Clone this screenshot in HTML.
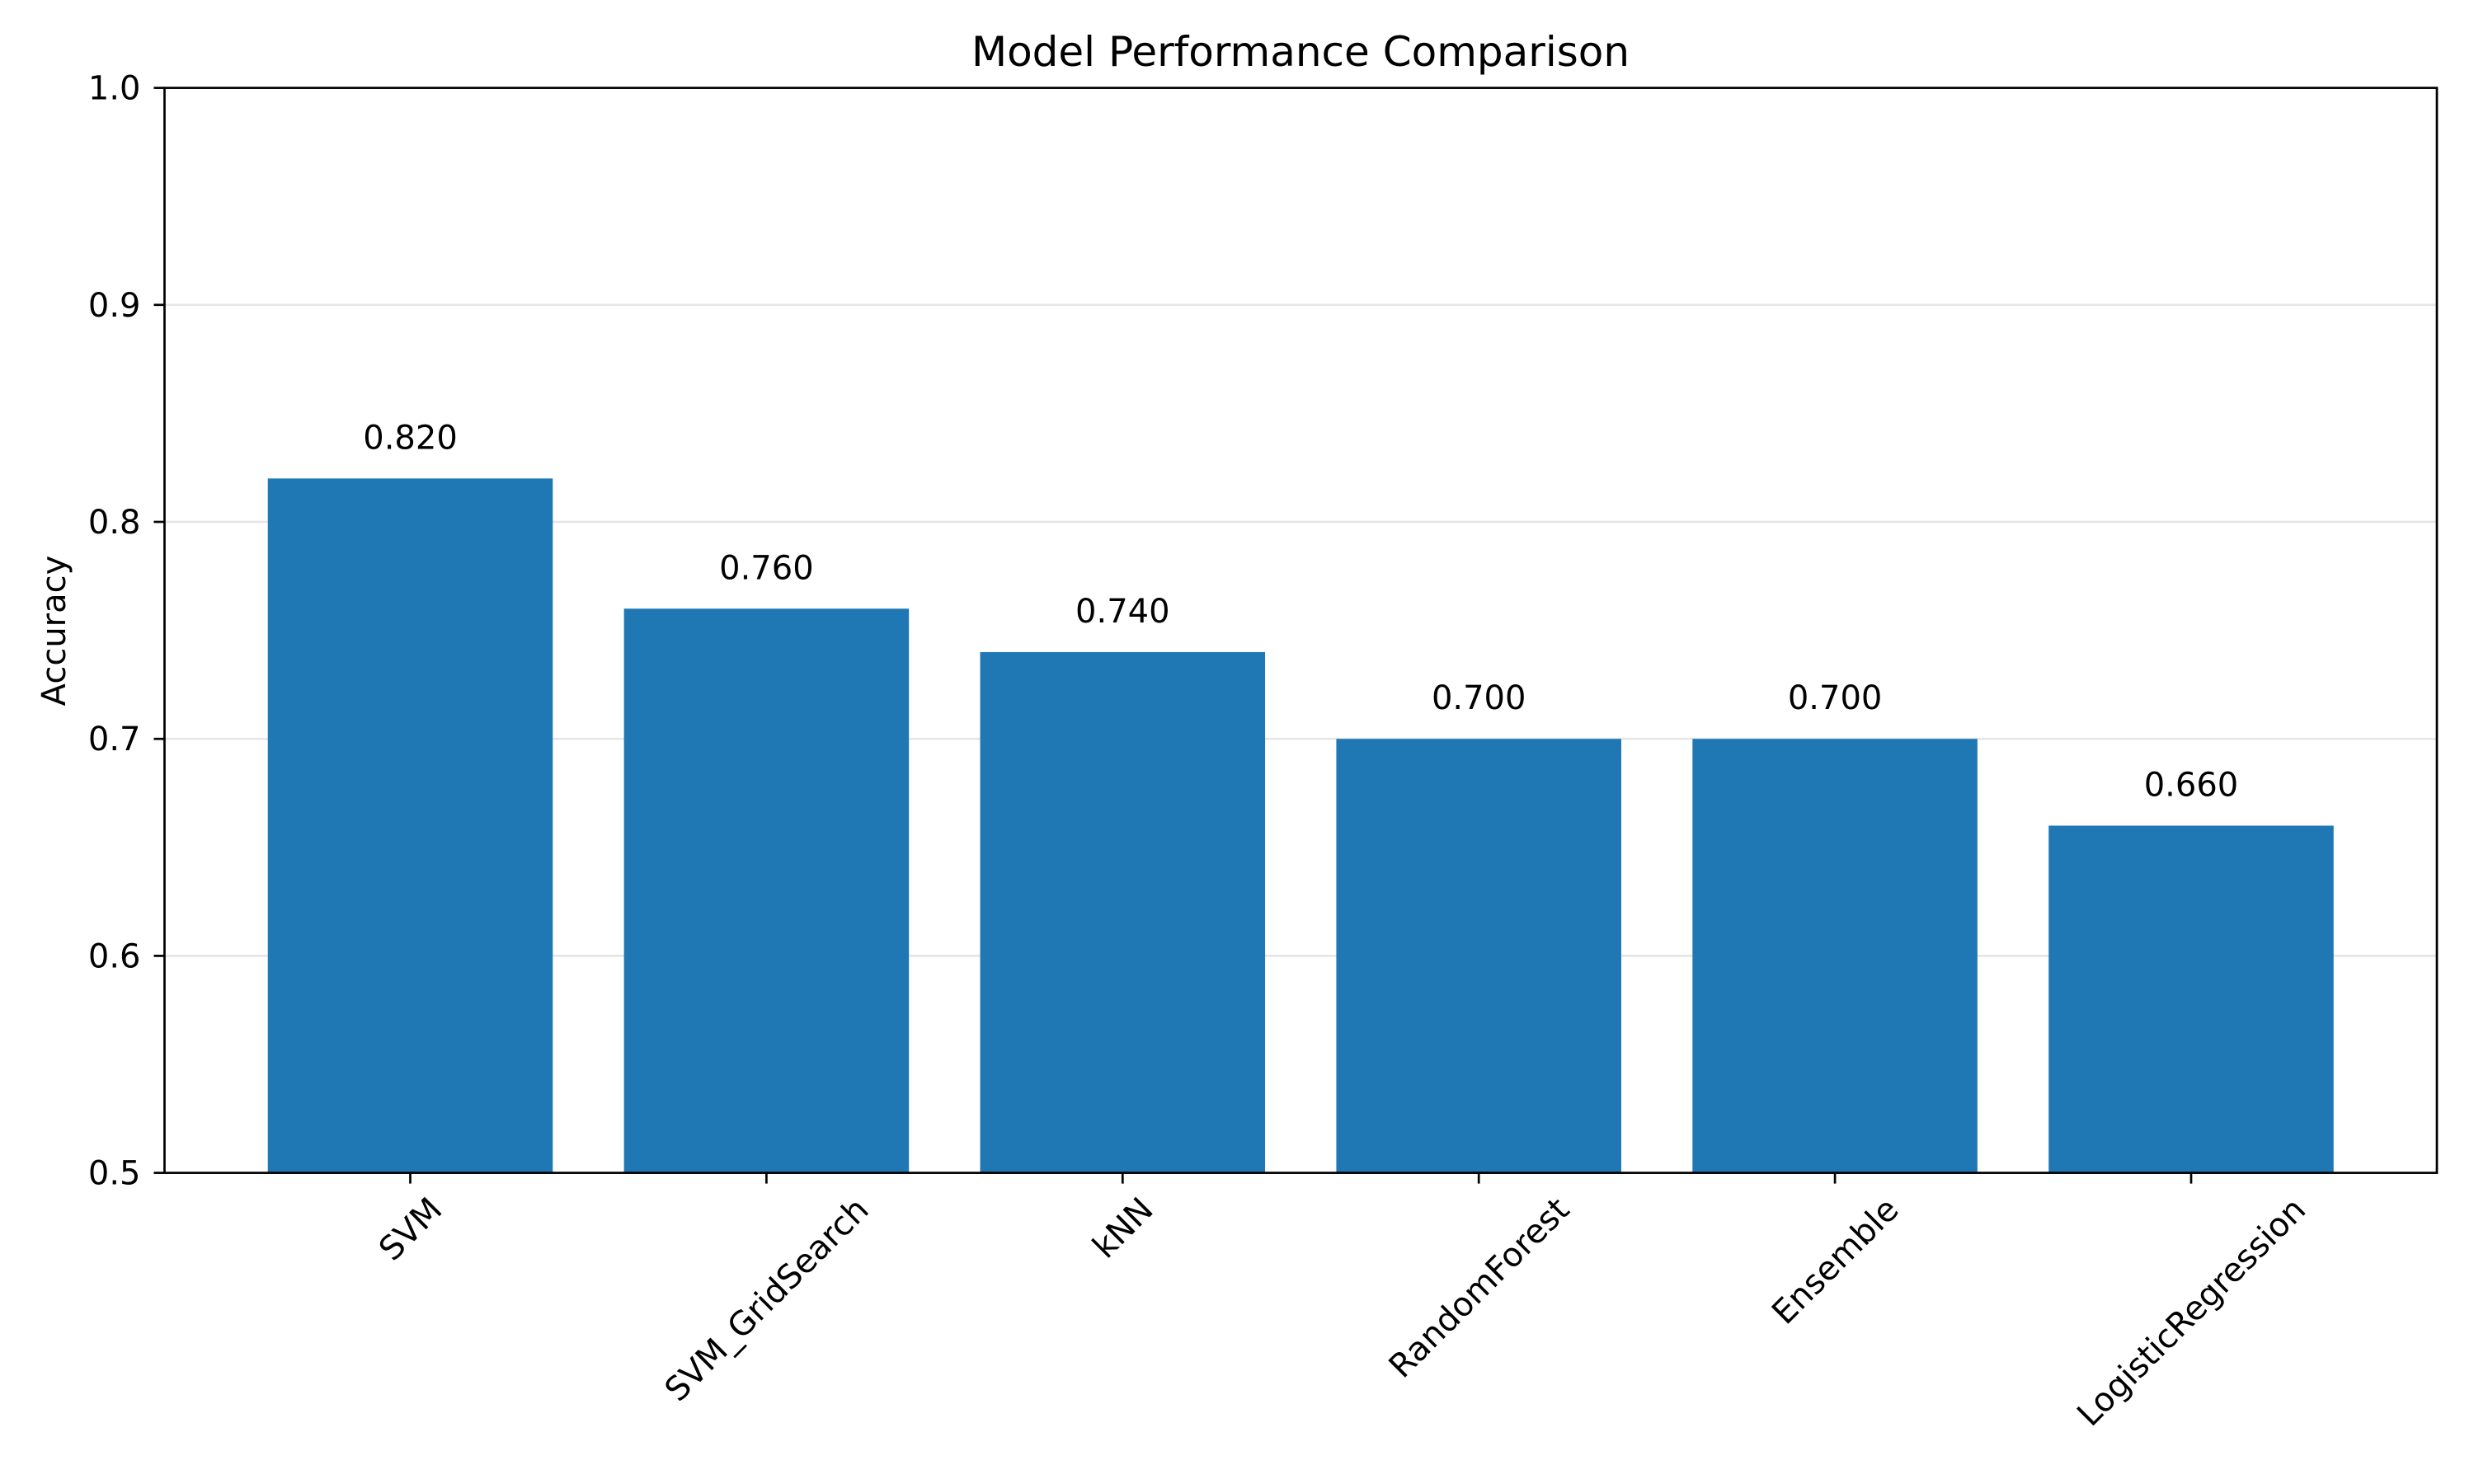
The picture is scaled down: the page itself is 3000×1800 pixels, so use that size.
<!DOCTYPE html>
<html><head><meta charset="utf-8"><style>
html,body{margin:0;padding:0;background:#fff}
svg{display:block}
text{font-family:"DejaVu Sans","Liberation Sans",sans-serif;fill:#000}
</style></head><body>
<svg id="chart" width="3000" height="1800" viewBox="0 0 3000 1800" xmlns="http://www.w3.org/2000/svg">
<rect width="3000" height="1800" fill="#fff"/>
<g id="grid"></g>
<g id="bars"></g>
<g id="labels"></g>
<rect x="199.5" y="106.6" width="2755.5" height="1316" fill="none" stroke="#000" stroke-width="2.7"/>
<g id="yticks"></g>
<g id="xticks"></g>
<text x="1577" y="80" font-size="50" text-anchor="middle">Model Performance Comparison</text>
<text x="0" y="0" font-size="40" text-anchor="middle" transform="translate(79,765) rotate(-90)">Accuracy</text>
</svg>
<script>
const categories = ["SVM","SVM_GridSearch","kNN","RandomForest","Ensemble","LogisticRegression"];
const values = [0.82,0.76,0.74,0.70,0.70,0.66];
const valueLabels = ["0.820","0.760","0.740","0.700","0.700","0.660"];
const yTicks = [0.5,0.6,0.7,0.8,0.9,1.0];
const yTickLabels = ["0.5","0.6","0.7","0.8","0.9","1.0"];

const NS="http://www.w3.org/2000/svg";
const L=199.5,R=2955,T=106.6,B=1422.6;
const xMin=-0.69,xMax=categories.length-1+0.69,yMin=0.5,yMax=1.0;
const xs=v=>L+(v-xMin)/(xMax-xMin)*(R-L);
const ys=v=>B-(v-yMin)/(yMax-yMin)*(B-T);
const bw=0.8;
const FS=40;
function mk(tag,attrs,parent){const e=document.createElementNS(NS,tag);for(const k in attrs)e.setAttribute(k,attrs[k]);parent.appendChild(e);return e;}
const grid=document.getElementById('grid'),bars=document.getElementById('bars'),labels=document.getElementById('labels'),yt=document.getElementById('yticks'),xt=document.getElementById('xticks');
yTicks.forEach((t,i)=>{
  const y=ys(t);
  if(t>yMin&&t<yMax){const g=mk('line',{x1:L,x2:R,y1:y,y2:y,stroke:'#e6e6e6','stroke-width':2.7},grid);
  
  }
  const tk=mk('line',{x1:L-13,x2:L,y1:y,y2:y,stroke:'#000','stroke-width':2.7},yt);
  
  
  const tx=mk('text',{x:L-29,y:y+14,'font-size':FS,'text-anchor':'end'},yt);
  tx.textContent=yTickLabels[i];
  
  
});
categories.forEach((c,i)=>{
  const x0=xs(i-bw/2),x1=xs(i+bw/2),y=ys(values[i]);
  const r=mk('rect',{x:x0,y:y,width:x1-x0,height:B-y,fill:'#1f77b4'},bars);
  
  
  const lb=mk('text',{x:xs(i),y:y-36,'font-size':FS,'text-anchor':'middle'},labels);
  lb.textContent=valueLabels[i];
  
  
  const tk=mk('line',{x1:xs(i),x2:xs(i),y1:B,y2:B+13,stroke:'#000','stroke-width':2.7},xt);
  
  
  const tx=mk('text',{x:0,y:14,'font-size':FS,'text-anchor':'middle'},xt);
  tx.textContent=c;
  
  
  const w=tx.getComputedTextLength(),h=FS;
  const boxH=(w+h)*0.7071;
  const cy=B+13+10+boxH/2;
  tx.setAttribute('transform','translate('+xs(i)+','+cy+') rotate(-45)');
});
</script>
</body></html>
